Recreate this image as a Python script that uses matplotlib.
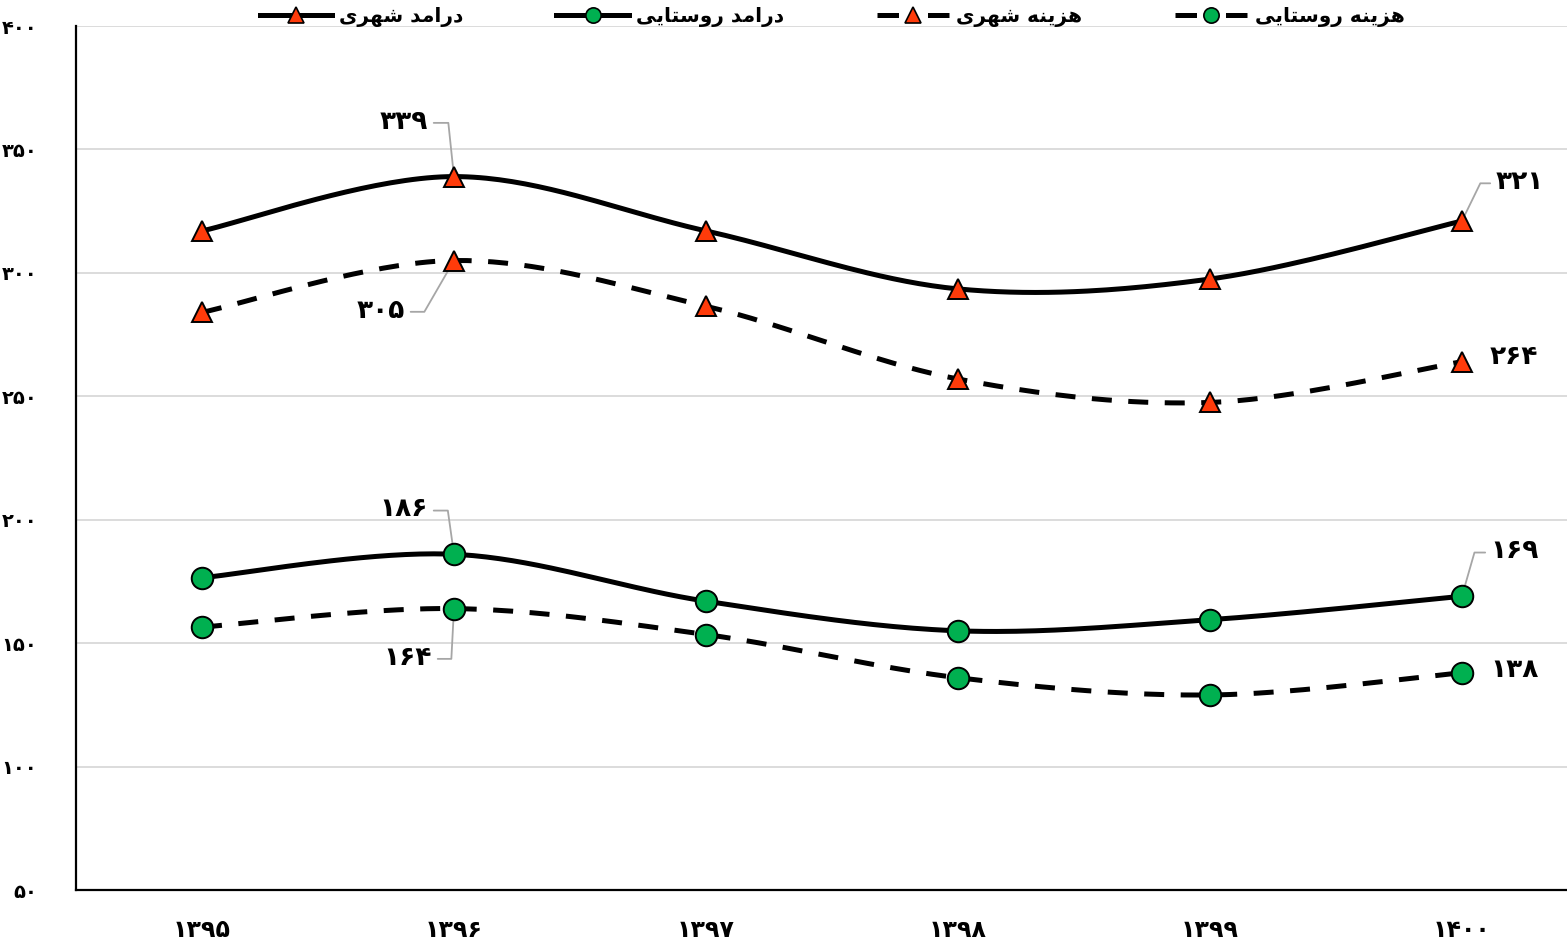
import numpy as np
import matplotlib
matplotlib.use("Agg")
import matplotlib.pyplot as plt
from matplotlib.lines import Line2D

# ---- data -------------------------------------------------------------
years = [1395, 1396, 1397, 1398, 1399, 1400]
urban_income = [317, 339, 317, 293.5, 297.5, 321]
rural_income = [176.5, 186, 167, 155, 159.5, 169]
urban_cost = [284, 305, 286.5, 257, 247.5, 264]
rural_cost = [156.5, 164, 153.5, 136, 129, 138]
yticks = [50, 100, 150, 200, 250, 300, 350, 400]

names = ["درامد شهری", "درامد روستایی", "هزینه شهری", "هزینه روستایی"]

# ---- tiny Persian shaper (matplotlib has no Arabic shaping) ------------
FORMS = {  # isolated, final, initial, medial
    "ا": ("\uFE8D", "\uFE8E", None, None),
    "د": ("\uFEA9", "\uFEAA", None, None),
    "ر": ("\uFEAD", "\uFEAE", None, None),
    "ز": ("\uFEAF", "\uFEB0", None, None),
    "و": ("\uFEED", "\uFEEE", None, None),
    "م": ("\uFEE1", "\uFEE2", "\uFEE3", "\uFEE4"),
    "ش": ("\uFEB5", "\uFEB6", "\uFEB7", "\uFEB8"),
    "س": ("\uFEB1", "\uFEB2", "\uFEB3", "\uFEB4"),
    "ه": ("\uFEE9", "\uFEEA", "\uFEEB", "\uFEEC"),
    "ن": ("\uFEE5", "\uFEE6", "\uFEE7", "\uFEE8"),
    "ت": ("\uFE95", "\uFE96", "\uFE97", "\uFE98"),
    "ی": ("\uFEEF", "\uFEF0", "\uFEF3", "\uFEF4"),
}


def fa(s):
    out = []
    for i, c in enumerate(s):
        if c not in FORMS:
            out.append(c)
            continue
        prev = s[i - 1] if i > 0 else " "
        nxt = s[i + 1] if i < len(s) - 1 else " "
        jp = prev in FORMS and FORMS[prev][2] is not None
        jn = FORMS[c][2] is not None and nxt in FORMS
        f = FORMS[c]
        out.append(f[3] if jp and jn else f[1] if jp else f[2] if jn else f[0])
    return "".join(out[::-1])


def fdig(v):
    return str(v).translate(str.maketrans("0123456789", "۰۱۲۳۴۵۶۷۸۹"))


def smooth(y, n=40):
    # Excel-style smoothed line: cubic bezier with catmull-rom controls
    x = np.arange(len(y), dtype=float)
    p = np.column_stack([x, np.asarray(y, float)])
    pts = []
    for i in range(len(p) - 1):
        p0 = p[max(i - 1, 0)]
        p1, p2 = p[i], p[i + 1]
        p3 = p[min(i + 2, len(p) - 1)]
        c1 = p1 + (p2 - p0) / 6
        c2 = p2 - (p3 - p1) / 6
        t = np.linspace(0, 1, n)[:, None]
        seg = ((1 - t) ** 3) * p1 + 3 * ((1 - t) ** 2) * t * c1 + 3 * (1 - t) * t ** 2 * c2 + t ** 3 * p2
        pts.append(seg if i == 0 else seg[1:])
    pts = np.vstack(pts)
    return pts[:, 0], pts[:, 1]


plt.rcParams["font.family"] = ["DejaVu Sans"]
plt.rcParams["font.weight"] = "bold"

fig = plt.figure(figsize=(15.67, 9.43), dpi=100)
ax = fig.add_axes([76 / 1567, (943 - 890) / 943, 1 - 76 / 1567, 864 / 943])

RED, GREEN = "#ff3b0a", "#00b050"
series = [
    (urban_income, "^", RED, "-"),
    (rural_income, "o", GREEN, "-"),
    (urban_cost, "^", RED, "--"),
    (rural_cost, "o", GREEN, "--"),
]
handles = []
for (vals, mk, col, ls), name in zip(series, names):
    sx, sy = smooth(vals)
    kw = dict(color="black", lw=3.6, zorder=3)
    if ls == "--":
        kw["dashes"] = (4, 3.3)
    ax.plot(sx, sy, **kw)
    ms = 15 if mk == "^" else 15.5
    ax.plot(range(len(vals)), vals, ls="none", marker=mk, ms=ms, mfc=col,
            mec="black", mew=1.4, zorder=4)
    h = Line2D([], [], color="black", lw=3.6, marker=mk, ms=11, mfc=col,
               mec="black", mew=1.2)
    if ls == "--":
        h.set_dashes((4.3, 5.8))
    handles.append(h)

ax.set_xlim(-0.5, 5.417)
ax.set_ylim(50, 400)
ax.set_yticks(yticks)
ax.set_yticklabels([fdig(v) for v in yticks], fontsize=14, fontweight="bold")
ax.set_xticks(range(len(years)))
ax.set_xticklabels([fdig(v) for v in years], fontsize=17, fontweight="bold")
ax.tick_params(axis="both", length=0)
ax.tick_params(axis="y", pad=28)
ax.tick_params(axis="x", pad=20)
ax.grid(axis="y", color="#d9d9d9", lw=1.3, zorder=0)
for s in ["top", "right"]:
    ax.spines[s].set_visible(False)
for s in ["left", "bottom"]:
    ax.spines[s].set_color("black")
    ax.spines[s].set_linewidth(1.6)

# ---- data labels with leader lines -----------------------------------
lead = dict(arrowstyle="-", color="#a6a6a6", lw=1.3, shrinkA=2, shrinkB=4)
labels = [
    # series, index, text offset (px), leader angle, leader start on text
    (urban_income, 1, (-50, 55), 96, (1, 0.45)),
    (urban_cost, 1, (-73, -50), 60, (1, 0.45)),
    (urban_income, 5, (58, 39), 64, (0, 0.45)),
    (urban_cost, 5, (52, 5), None, None),
    (rural_income, 1, (-50, 45), 98, (1, 0.45)),
    (rural_cost, 1, (-46, -49), 87, (1, 0.45)),
    (rural_income, 5, (53, 45), 74, (0, 0.45)),
    (rural_cost, 5, (53, 3), None, None),
]
for vals, i, off, ang, rp in labels:
    kw = {}
    if ang is not None:
        kw["arrowprops"] = dict(lead, relpos=rp,
                                connectionstyle=f"angle,angleA=0,angleB={ang},rad=0")
    ax.annotate(fdig(int(round(vals[i]))), (i, vals[i]), xytext=off,
                textcoords="offset pixels", ha="center", va="center",
                fontsize=19, fontweight="bold", **kw)

fig.legend(handles, [fa(n) for n in names], ncol=4, loc="upper center",
           bbox_to_anchor=(0.531, 1.012), frameon=False, fontsize=14.5,
           handlelength=3.6, columnspacing=4.6, handletextpad=0.35,
           numpoints=1)

fig.savefig("out.png", dpi=100, facecolor="white")
